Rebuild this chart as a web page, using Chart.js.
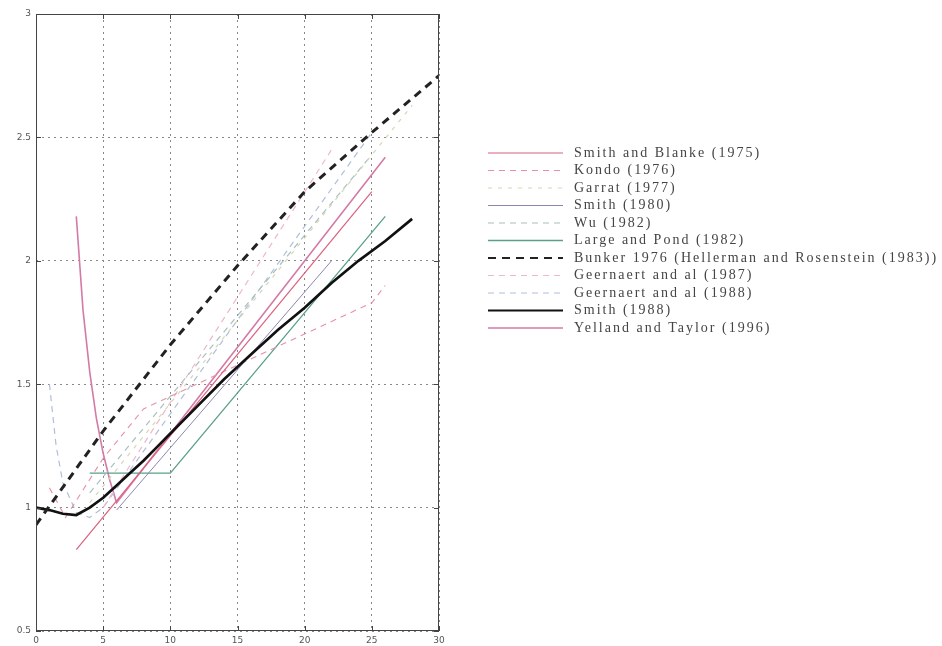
<!DOCTYPE HTML>
<html lang="en">
<head>
    <meta charset="utf-8">
    <title>Drag coefficient formulations</title>
    <script src="https://cdn.jsdelivr.net/npm/chart.js@4.4.1/dist/chart.umd.min.js"></script>
    <style>
        body {
            margin: 0;
            background: #fff;
        }

        #chart-container {
            position: relative;
            width: 942px;
            height: 646px;
        }
    </style>
</head>
<body>
    <div id="chart-container">
        <canvas id="cd-chart"></canvas>
    </div>

    <script>
        // wind speed (x) and drag coefficient x1000 (y) for each formulation
        const seriesNames = [
            'Smith and Blanke (1975)',
            'Kondo (1976)',
            'Garrat (1977)',
            'Smith (1980)',
            'Wu (1982)',
            'Large and Pond (1982)',
            'Bunker 1976 (Hellerman and Rosenstein (1983))',
            'Geernaert and al (1987)',
            'Geernaert and al (1988)',
            'Smith (1988)',
            'Yelland and Taylor (1996)'
        ];

        const xSmithBlanke = [3, 25];
        const ySmithBlanke = [0.83, 2.28];
        const xKondo = [1, 2.2, 5, 8, 25, 26];
        const yKondo = [1.08, 0.96, 1.2, 1.4, 1.83, 1.9];
        const xGarrat = [4, 28];
        const yGarrat = [1.02, 2.63];
        const xSmith80 = [6, 22];
        const ySmith80 = [0.99, 2.0];
        const xWu = [4, 25];
        const yWu = [1.06, 2.43];
        const xLargePond = [4, 10, 26];
        const yLargePond = [1.14, 1.14, 2.18];
        const xBunker = [0, 5, 10, 15, 20, 25, 30];
        const yBunker = [0.93, 1.31, 1.66, 1.98, 2.28, 2.52, 2.75];
        const xGeernaert87 = [5, 22];
        const yGeernaert87 = [1.0, 2.45];
        const xGeernaert88 = [1, 1.5, 2, 3, 4, 5, 10, 15, 20, 25];
        const yGeernaert88 = [1.5, 1.25, 1.1, 0.98, 0.96, 1.0, 1.38, 1.76, 2.14, 2.52];
        const xSmith88 = [0, 1, 2, 3, 4, 5, 6, 7, 8, 9, 10, 12, 14, 16, 18, 20, 22, 24, 26, 28];
        const ySmith88 = [1.0, 0.99, 0.975, 0.97, 1.0, 1.04, 1.09, 1.14, 1.19, 1.245, 1.3, 1.41, 1.52, 1.62, 1.72, 1.81, 1.91, 2.0, 2.08, 2.17];
        const xYelland = [3, 3.5, 4, 4.5, 5, 5.5, 6, 26];
        const yYelland = [2.18, 1.80, 1.55, 1.36, 1.22, 1.11, 1.02, 2.42];

        const xTicks = [0, 5, 10, 15, 20, 25, 30];
        const yTicks = [0.5, 1, 1.5, 2, 2.5, 3];

        function pts(xs, ys) {
            return xs.map((x, i) => ({ x: x, y: ys[i] }));
        }

        const seriesData = [
            pts(xSmithBlanke, ySmithBlanke),
            pts(xKondo, yKondo),
            pts(xGarrat, yGarrat),
            pts(xSmith80, ySmith80),
            pts(xWu, yWu),
            pts(xLargePond, yLargePond),
            pts(xBunker, yBunker),
            pts(xGeernaert87, yGeernaert87),
            pts(xGeernaert88, yGeernaert88),
            pts(xSmith88, ySmith88),
            pts(xYelland, yYelland)
        ];

        const styles = [
            { color: '#d9607f', width: 1.2, dash: [] },
            { color: '#e690a8', width: 1.1, dash: [6, 5] },
            { color: '#d6d6b4', width: 1.2, dash: [4, 6] },
            { color: '#8c86b0', width: 1, dash: [] },
            { color: '#a8c0c0', width: 1.2, dash: [6, 5] },
            { color: '#5aa08a', width: 1.3, dash: [] },
            { color: '#222222', width: 3, dash: [8, 6] },
            { color: '#eeb8ca', width: 1.2, dash: [6, 5] },
            { color: '#b0bedb', width: 1.2, dash: [6, 5] },
            { color: '#111111', width: 2.7, dash: [] },
            { color: '#d47aa6', width: 1.6, dash: [] }
        ];

        const datasets = seriesNames.map((name, i) => ({
            label: name,
            data: seriesData[i],
            showLine: true,
            borderColor: styles[i].color,
            backgroundColor: styles[i].color,
            borderWidth: styles[i].width,
            borderDash: styles[i].dash,
            pointRadius: 0,
            tension: 0,
            order: (i === 6 || i === 9) ? 0 : 1
        }));

        // box around plot, inward tick marks and the legend on the right
        const framePlugin = {
            id: 'frame',
            afterDraw(chart) {
                const ctx = chart.ctx;
                const a = chart.chartArea;
                const xs = chart.scales.x, ys = chart.scales.y;
                ctx.save();
                ctx.strokeStyle = '#444';
                ctx.lineWidth = 1;
                ctx.setLineDash([]);
                ctx.strokeRect(a.left + 0.5, a.top + 0.5, a.right - a.left - 1, a.bottom - a.top - 1);
                ctx.beginPath();
                xTicks.forEach(t => {
                    const px = Math.round(xs.getPixelForValue(t)) + 0.5;
                    ctx.moveTo(px, a.bottom); ctx.lineTo(px, a.bottom - 5);
                    ctx.moveTo(px, a.top); ctx.lineTo(px, a.top + 5);
                });
                yTicks.forEach(t => {
                    const py = Math.round(ys.getPixelForValue(t)) + 0.5;
                    ctx.moveTo(a.left, py); ctx.lineTo(a.left + 5, py);
                    ctx.moveTo(a.right, py); ctx.lineTo(a.right - 5, py);
                });
                ctx.stroke();

                // legend
                const top = 153, step = 17.5;
                ctx.font = '14px "Liberation Serif", "DejaVu Serif", serif';
                ctx.letterSpacing = '2px';
                ctx.textBaseline = 'middle';
                ctx.fillStyle = '#444';
                chart.data.datasets.forEach((ds, i) => {
                    const y = top + i * step;
                    ctx.beginPath();
                    ctx.strokeStyle = ds.borderColor;
                    ctx.lineWidth = Math.min(ds.borderWidth, 2);
                    ctx.setLineDash(ds.borderDash);
                    ctx.moveTo(488, y);
                    ctx.lineTo(563, y);
                    ctx.stroke();
                    ctx.setLineDash([]);
                    ctx.fillText(ds.label, 574, y);
                });
                ctx.restore();
            }
        };

        new Chart(document.getElementById('cd-chart').getContext('2d'), {
            type: 'scatter',
            data: { datasets: datasets },
            plugins: [framePlugin],
            options: {
                responsive: true,
                maintainAspectRatio: false,
                animation: false,
                layout: {
                    padding: { top: 14, right: 503, bottom: 0, left: 0 }
                },
                plugins: {
                    legend: { display: false },
                    tooltip: { enabled: false }
                },
                scales: {
                    x: {
                        type: 'linear',
                        min: 0,
                        max: 30,
                        afterFit: (scale) => { scale.height = 15; },
                        afterBuildTicks: (scale) => { scale.ticks = xTicks.map(v => ({ value: v })); },
                        ticks: {
                            padding: 4,
                            color: '#555',
                            font: { size: 9, family: 'DejaVu Sans' },
                            maxRotation: 0,
                            callback: (v) => String(v)
                        },
                        grid: {
                            color: '#888',
                            lineWidth: 1,
                            drawTicks: false
                        },
                        border: { display: false, dash: [2, 4] }
                    },
                    y: {
                        type: 'linear',
                        min: 0.5,
                        max: 3,
                        afterFit: (scale) => { scale.width = 36; },
                        afterBuildTicks: (scale) => { scale.ticks = yTicks.map(v => ({ value: v })); },
                        ticks: {
                            padding: 5,
                            color: '#555',
                            font: { size: 9, family: 'DejaVu Sans' },
                            callback: (v) => String(v)
                        },
                        grid: {
                            color: '#888',
                            lineWidth: 1,
                            drawTicks: false
                        },
                        border: { display: false, dash: [2, 4] }
                    }
                }
            }
        });
    </script>
</body>
</html>
